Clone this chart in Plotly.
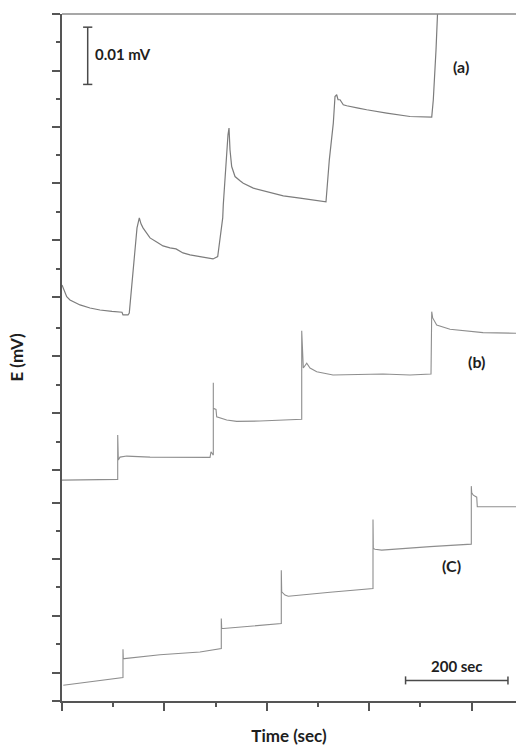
import plotly.graph_objects as go

# ---- data (time in sec, potential in mV) ----
a_t = [0, 9.2, 15.6, 35.2, 54.7, 74.2, 97.7, 117.2, 119.1, 128.9, 131.4, 136.7, 142.6, 146.5, 151.0,
       154.3, 158.2, 171.9, 184.9, 197.3, 210.9, 222.7, 236.3, 250.0, 269.5, 283.2, 294.9, 304.1,
       308.6, 313.9, 315.0, 318.4, 321.7, 324.2, 326.2, 328.1, 331.4, 337.9, 347.7, 354.1, 373.6,
       399.8, 432.2, 464.8, 497.5, 515.6, 522.1, 529.9, 533.2, 536.5, 539.1, 543.0, 549.4, 556.1,
       578.7, 595.1, 634.2, 679.7, 722.1, 725.2, 730.5, 733.8, 735.4]
a_e = [0.07267, 0.07063, 0.07005, 0.06918, 0.06865, 0.06830, 0.06804, 0.06790, 0.06743, 0.06743,
       0.06778, 0.07355, 0.07967, 0.08264, 0.08439, 0.08334, 0.08264, 0.08089, 0.08019, 0.07949,
       0.07914, 0.07897, 0.07827, 0.07792, 0.07762, 0.07740, 0.07722, 0.07762, 0.08054, 0.08439,
       0.08666, 0.09190, 0.09628, 0.09890, 0.10007, 0.09628, 0.09336, 0.09161, 0.09086, 0.09045,
       0.08958, 0.08899, 0.08823, 0.08783, 0.08741, 0.08719, 0.09453, 0.10094, 0.10559, 0.10589,
       0.10502, 0.10502, 0.10414, 0.10397, 0.10357, 0.10327, 0.10269, 0.10210, 0.10199, 0.10502,
       0.11376, 0.11988, 0.12425]

b_t = [0, 54.7, 108.8, 108.8, 110.0, 113.3, 116.6, 126.4, 171.9, 230.5, 289.1, 291.0, 294.3, 295.5,
       295.5, 295.5, 300.8, 302.1, 321.7, 341.2, 386.7, 425.8, 468.2, 468.2, 471.3, 478.0, 484.4,
       497.5, 529.3, 627.0, 679.7, 720.7, 722.1, 724.0, 731.8, 757.8, 822.3, 886.7]
b_e = [0.03858, 0.03858, 0.03871, 0.04645, 0.04208, 0.04260, 0.04266, 0.04278, 0.04260, 0.04252,
       0.04255, 0.04353, 0.04295, 0.04295, 0.05559, 0.05112, 0.05094, 0.04965, 0.04907, 0.04885,
       0.04890, 0.04899, 0.04920, 0.06469, 0.05816, 0.05899, 0.05816, 0.05752, 0.05694, 0.05712,
       0.05694, 0.05712, 0.06801, 0.06691, 0.06568, 0.06493, 0.06434, 0.06423]

c_t = [2.5, 119.1, 119.1, 119.7, 121.7, 191.4, 269.5, 311.1, 311.1, 311.9, 315.0, 367.2, 428.3,
       428.3, 429.1, 435.5, 442.0, 523.4, 607.4, 607.4, 608.0, 611.3, 624.4, 718.8, 799.4, 799.4,
       800.2, 803.3, 810.0, 811.1, 886.7]
c_e = [0.00274, 0.00409, 0.00904, 0.00741, 0.00741, 0.00808, 0.00857, 0.00916, 0.01441, 0.01266,
       0.01266, 0.01306, 0.01353, 0.02285, 0.01906, 0.01850, 0.01830, 0.01900, 0.01965, 0.03171,
       0.02664, 0.02650, 0.02635, 0.02696, 0.02740, 0.03753, 0.03636, 0.03596, 0.03560, 0.03392,
       0.03392]

x_major = [0, 200, 400, 600, 800]
x_minor = [100, 300, 500, 700]
y_major = [0, 0.0049, 0.0149, 0.0248, 0.0346, 0.0403, 0.0503, 0.0603, 0.0706, 0.0806,
           0.0905, 0.1003, 0.1101, 0.12]
y_minor = [0.0099, 0.0199, 0.0297, 0.0453, 0.0552, 0.0651, 0.0755, 0.0854, 0.0954,
           0.1052, 0.1151]

labels = ["(a)", "(b)", "(C)"]
label_t = [779, 810, 761]
label_e = [0.1108, 0.0593, 0.0237]

mv_bar_t = 50.2
mv_bar_e = [0.1077, 0.1177]
sec_bar_t = [671, 871]
sec_bar_e = 0.0036

FONT = "Lato"
TXT = "#1e1e1e"
fig = go.Figure()
for t, e, col, w in [(a_t, a_e, "#7c7c7c", 1.2), (b_t, b_e, "#8e8e8e", 1.1), (c_t, c_e, "#8e8e8e", 1.1)]:
    fig.add_trace(go.Scatter(x=t, y=e, mode="lines", line=dict(color=col, width=w),
                             showlegend=False, hoverinfo="skip"))

# scale bars
BAR = dict(color="#4a4a4a", width=1.5)
fig.add_trace(go.Scatter(x=[mv_bar_t, mv_bar_t], y=mv_bar_e, mode="lines",
                         line=BAR, showlegend=False, hoverinfo="skip"))
for ev in mv_bar_e:
    fig.add_trace(go.Scatter(x=[mv_bar_t - 9, mv_bar_t + 9], y=[ev, ev], mode="lines",
                             line=BAR, showlegend=False, hoverinfo="skip"))
fig.add_trace(go.Scatter(x=sec_bar_t, y=[sec_bar_e, sec_bar_e], mode="lines",
                         line=BAR, showlegend=False, hoverinfo="skip"))
for tv in sec_bar_t:
    fig.add_trace(go.Scatter(x=[tv, tv], y=[sec_bar_e - 0.0007, sec_bar_e + 0.0007], mode="lines",
                             line=BAR, showlegend=False, hoverinfo="skip"))

fig.add_annotation(x=mv_bar_t + 10, y=(mv_bar_e[0] + mv_bar_e[1]) / 2 + 0.0003, text="<b>0.01 mV</b>",
                   showarrow=False, xanchor="left", font=dict(family=FONT, size=15, color=TXT))
fig.add_annotation(x=(sec_bar_t[0] + sec_bar_t[1]) / 2, y=sec_bar_e + 0.0026, text="<b>200 sec</b>",
                   showarrow=False, font=dict(family=FONT, size=15, color=TXT))
for txt, t, e in zip(labels, label_t, label_e):
    fig.add_annotation(x=t, y=e, text="<b>" + txt + "</b>", showarrow=False,
                       font=dict(family=FONT, size=16, color=TXT))

fig.add_shape(type="line", xref="paper", yref="paper", x0=0, x1=1, y0=1, y1=1,
              line=dict(color="#8a8a8a", width=1.5))

fig.update_layout(
    width=516, height=746,
    margin=dict(l=62, r=0, t=14, b=45),
    paper_bgcolor="white", plot_bgcolor="white",
    xaxis=dict(range=[0, 886.7], showgrid=False, zeroline=False, showline=True,
               linecolor="#555", linewidth=2, ticks="outside", tickmode="array",
               tickvals=x_major, ticklen=8, tickwidth=1.5, tickcolor="#555",
               showticklabels=False, automargin=False,
               minor=dict(tickmode="array", tickvals=x_minor, ticks="outside", ticklen=4,
                          tickwidth=1.5, tickcolor="#555", showgrid=False),
               title=dict(text="<b>Time (sec)</b>", font=dict(family=FONT, size=17, color=TXT),
                          standoff=22)),
    yaxis=dict(range=[0, 0.12], showgrid=False, zeroline=False, showline=True,
               linecolor="#555", linewidth=2, ticks="outside", tickmode="array",
               tickvals=y_major, ticklen=8, tickwidth=1.5, tickcolor="#555",
               showticklabels=False, automargin=False,
               minor=dict(tickmode="array", tickvals=y_minor, ticks="outside", ticklen=4,
                          tickwidth=1.5, tickcolor="#555", showgrid=False),
               title=dict(text="<b>E (mV)</b>", font=dict(family=FONT, size=17, color=TXT),
                          standoff=24)),
)

fig.write_html("out.html", config={"displayModeBar": False},
               post_script="document.body.style.margin='0px';")
